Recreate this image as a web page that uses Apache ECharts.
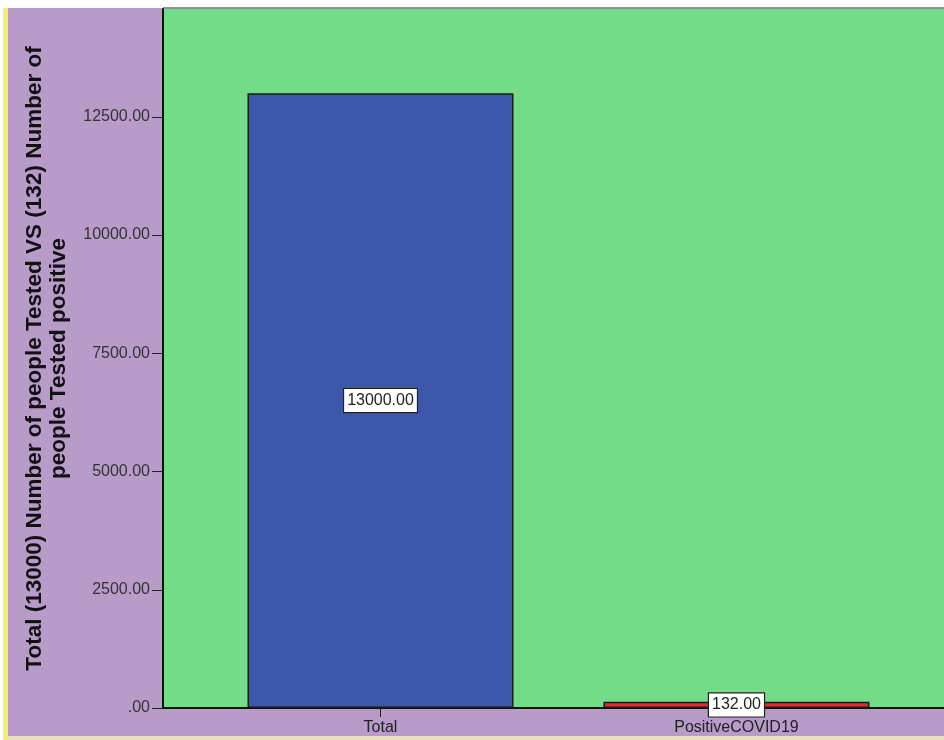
<!DOCTYPE html>
<html>
<head>
<meta charset="utf-8">
<script src="https://cdn.jsdelivr.net/npm/echarts@6/dist/echarts.min.js"></script>
<style>
  html, body { margin: 0; padding: 0; background: #ffffff; }
  #chart { width: 944px; height: 740px; }
</style>
</head>
<body>
<div id="chart"></div>
<script>
// Categories and counts
const categories = ['Total', 'PositiveCOVID19'];
const counts = [13000, 132];
const barColors = ['#3d57ab', '#e8282c'];
const yTicks = [0, 2500, 5000, 7500, 10000, 12500];
const yTitle = 'Total (13000) Number of people Tested VS (132) Number of\npeople Tested positive';

const fmt = v => (v === 0 ? '.00' : v.toFixed(2));
const FONT = 'Liberation Sans, Arial, sans-serif';

const chart = echarts.init(document.getElementById('chart'), null, { renderer: 'canvas' });

chart.setOption({
  animation: false,
  backgroundColor: '#ffffff',
  graphic: [
    { type: 'rect', shape: { x: 8, y: 8, width: 936, height: 732 }, style: { fill: '#b89bc9' }, z: -10 },
    { type: 'rect', shape: { x: 3, y: 8, width: 5, height: 732 }, style: { fill: '#f4ee6a' }, z: -10 },
    { type: 'rect', shape: { x: 8, y: 736, width: 936, height: 4 }, style: { fill: '#e9dfc2' }, z: -10 },
    { type: 'rect', shape: { x: 163, y: 7, width: 781, height: 2 }, style: { fill: '#7f9a84' }, z: -9 }
  ],
  grid: {
    left: 163, top: 9, right: 0, bottom: 32,
    outerBoundsMode: 'none',
    containLabel: false,
    show: true, backgroundColor: '#72dc86', borderWidth: 0
  },
  xAxis: {
    type: 'value',
    min: -0.611,
    max: 1.583,
    splitLine: { show: false },
    axisLine: { show: true, onZero: false, lineStyle: { color: '#111', width: 2 } },
    axisTick: { show: true, length: 9, customValues: [0, 1], lineStyle: { color: '#222' } },
    axisLabel: {
      customValues: [0, 1],
      formatter: v => categories[Math.round(v)],
      color: '#222', fontSize: 16, fontFamily: FONT,
      margin: 12
    }
  },
  yAxis: {
    type: 'value',
    min: 0,
    max: 14780,
    interval: 2500,
    splitLine: { show: false },
    axisLine: { show: true, onZero: false, lineStyle: { color: '#111', width: 2 } },
    axisTick: { show: true, length: 11, customValues: yTicks, lineStyle: { color: '#222' } },
    axisLabel: {
      customValues: yTicks,
      formatter: fmt,
      color: '#333', fontSize: 16, fontFamily: FONT,
      margin: 13
    },
    name: yTitle,
    nameLocation: 'middle',
    nameGap: 92,
    nameTextStyle: {
      color: '#111', fontSize: 22.5, fontWeight: 'bold',
      fontFamily: FONT,
      lineHeight: 24, align: 'center'
    }
  },
  series: [{
    type: 'bar',
    barWidth: 266,
    data: counts.map((v, i) => ({
      value: [i, v],
      itemStyle: { color: barColors[i], borderColor: '#1a1a1a', borderWidth: 1.5 }
    })),
    label: {
      show: true,
      position: 'inside',
      formatter: p => p.value[1].toFixed(2),
      color: '#222',
      fontSize: 16,
      fontFamily: FONT,
      backgroundColor: '#ffffff',
      borderColor: '#222',
      borderWidth: 1.2,
      padding: [4, 3, 3, 3]
    }
  }]
});
</script>
</body>
</html>
